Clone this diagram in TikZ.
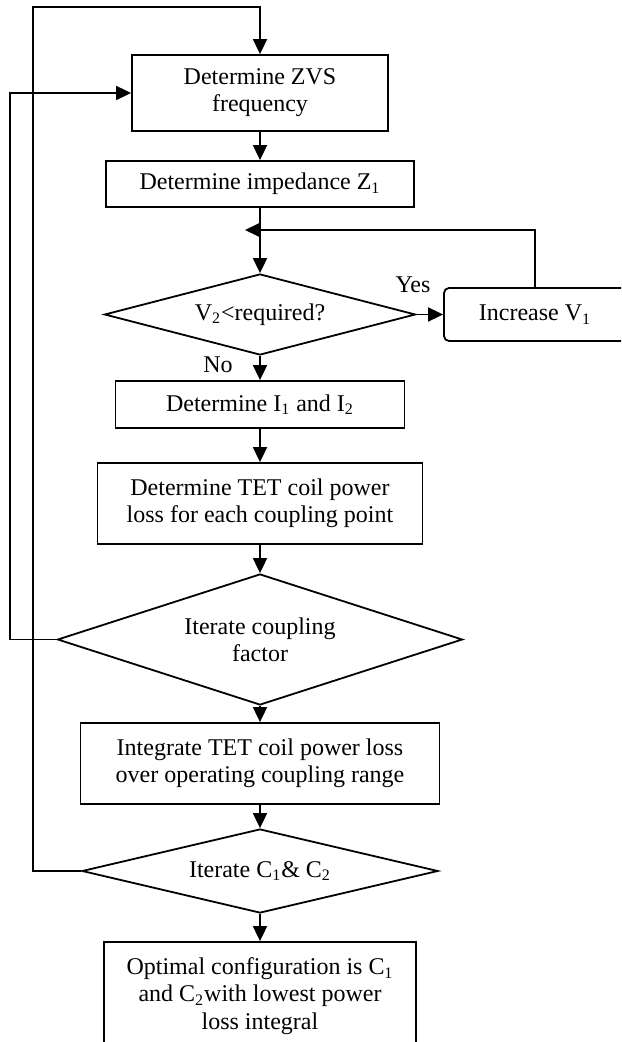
\documentclass[tikz,border=0pt]{standalone}
\usepackage{fontspec}
\setmainfont{Liberation Serif}
\usetikzlibrary{shapes.geometric}
\usetikzlibrary{arrows.meta}

\tikzset{
  procbox/.style={rectangle,draw=black,line width=0.9pt,align=center,inner sep=0pt},
  decision/.style={diamond,draw=black,line width=0.9pt,align=center,inner sep=0pt},
  flow/.style={-{Triangle[length=7.5pt,width=7pt]},draw=black,line width=0.9pt},
}

\begin{document}
\begin{tikzpicture}[x=0.5pt,y=-0.5pt,font=\fontsize{12}{13.6}\selectfont]
\useasboundingbox (0,0) rectangle (621,1042);
\clip (0,0) rectangle (621,1042);

\node[procbox,minimum width=128pt,minimum height=38pt] (zvs) at (260,93) {Determine ZVS\\frequency};
\node[procbox,minimum width=154pt,minimum height=23pt] (imp) at (260,184) {Determine impedance Z\textsubscript{1}};
\node[decision,aspect=3.84,minimum width=155.5pt,minimum height=40.5pt] (vtwo) at (260,314.5) {V\textsubscript{2}<required?};
\node[procbox,rounded corners=2.5pt,minimum width=91pt,minimum height=26.5pt] (incv) at (535,314.5) {Increase V\textsubscript{1}};
\node[procbox,minimum width=144.5pt,minimum height=23.5pt] (curr) at (260,404.5) {Determine I\textsubscript{1} and I\textsubscript{2}};
\node[procbox,minimum width=162.5pt,minimum height=40.5pt] (loss) at (260,503.5) {Determine TET coil power\\loss for each coupling point};
\node[decision,aspect=3.09,minimum width=202.5pt,minimum height=65.5pt] (coup) at (260,639.5) {Iterate coupling\\factor};
\node[procbox,minimum width=179.5pt,minimum height=40.5pt] (integ) at (260,763.5) {Integrate TET coil power loss\\over operating coupling range};
\node[decision,aspect=4.24,minimum width=178pt,minimum height=42pt] (caps) at (260,871) {Iterate C\textsubscript{1}\& C\textsubscript{2}};
\node[procbox,minimum width=156pt,minimum height=54pt] (optim) at (260,996) {Optimal configuration is C\textsubscript{1}\\and C\textsubscript{2}with lowest power\\loss integral};

\node (yes) at (413,285) {Yes};
\node (no) at (218,365) {No};

\coordinate (topleft) at (33,7);
\coordinate (farleft) at (10,93);
\coordinate (join) at (245,230);

\draw[flow] (zvs.south) -- (imp.north);
\draw[flow] (imp.south) -- (vtwo.north);
\draw[flow] (vtwo.east) -- (incv.west);
\draw[flow] (incv.north) |- (join);
\draw[flow] (vtwo.south) -- (curr.north);
\draw[flow] (curr.south) -- (loss.north);
\draw[flow] (loss.south) -- (coup.north);
\draw[flow] (coup.south) -- (integ.north);
\draw[flow] (integ.south) -- (caps.north);
\draw[flow] (caps.south) -- (optim.north);
\draw[flow] (caps.west) -| (topleft) -| (zvs.north);
\draw[flow] (coup.west) -| (farleft) -- (zvs.west);

\end{tikzpicture}
\end{document}
